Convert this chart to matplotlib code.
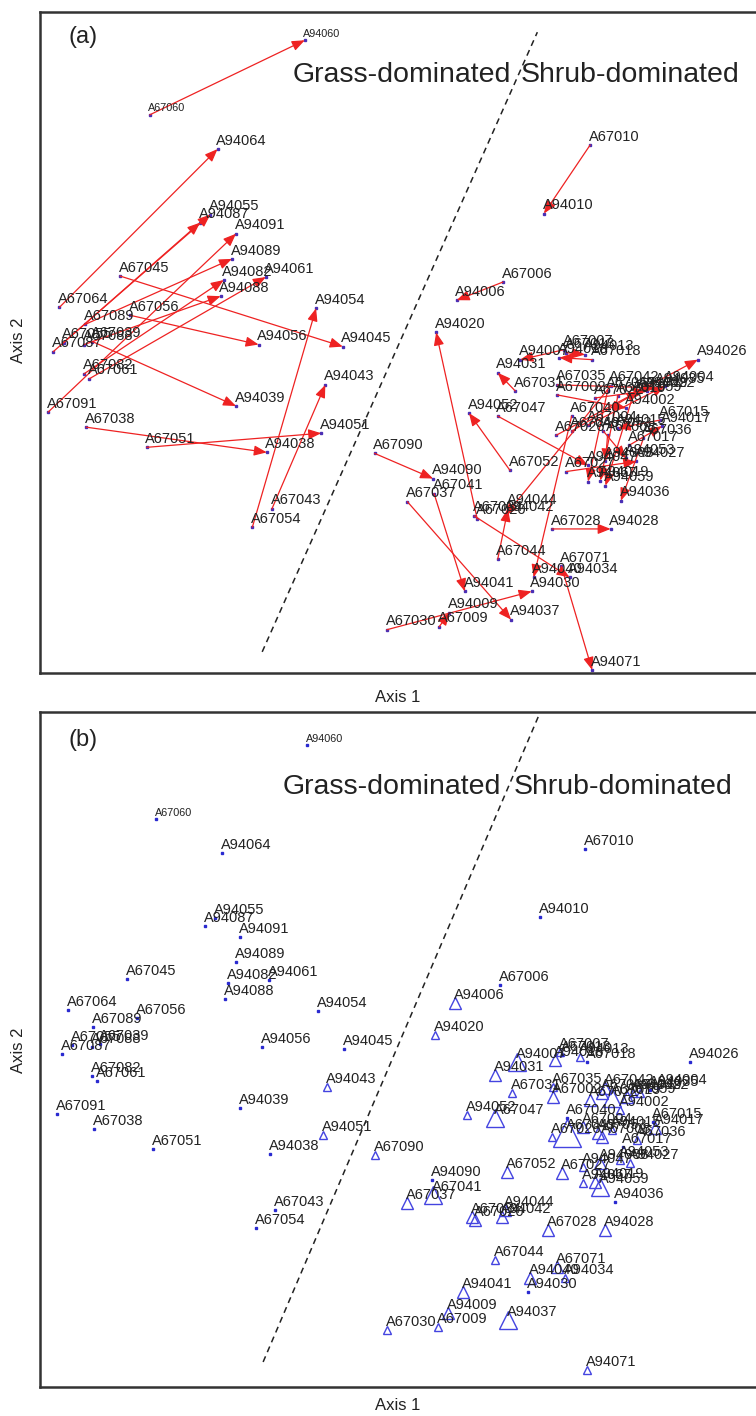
import matplotlib
matplotlib.use("Agg")
import matplotlib.pyplot as plt

plt.rcParams["font.family"] = ["Liberation Sans", "DejaVu Sans"]

# site numbers shared by the 1967 (A67) and 1994 (A94) surveys
site_ids = [
    "060", "064", "045", "089", "056", "087", "055", "088", "039", "091",
    "061", "082", "038", "051", "054", "043",
    "090", "041", "037", "030", "009", "028", "044", "071", "034", "020",
    "042", "006", "010", "026", "052", "047", "031", "007", "013", "018",
    "035", "002", "022", "004", "049", "040", "015", "017", "036", "053",
    "008", "027", "019", "059", "067",
]

# ordination scores, 1967
x67 = [-2.44, -3.32, -2.73, -3.07, -2.63, -3.38, -3.28, -3.08, -3.00, -3.43,
       -3.03, -3.08, -3.06, -2.47, -1.44, -1.25,
       -0.25, 0.33, 0.07, -0.13, 0.38, 1.48, 0.95, 1.57, 0.72, 0.75,
       2.05, 1.00, 1.85, 1.52, 1.07, 0.95, 1.12, 1.60, 1.62, 1.87,
       1.53, 1.53, 1.90, 1.83, 1.67, 1.67, 2.53, 2.23, 2.37, 1.98,
       2.02, 1.62, 2.12, 2.27, 2.02]
y67 = [2.31, 0.40, 0.71, 0.23, 0.32, -0.04, 0.05, 0.03, 0.06, -0.64,
       -0.31, -0.26, -0.79, -0.99, -1.78, -1.60,
       -1.05, -1.45, -1.53, -2.80, -2.77, -1.80, -2.10, -2.17, -1.67, -1.70,
       -0.38, 0.65, 2.01, -0.87, -1.22, -0.68, -0.43, -0.02, -0.05, -0.12,
       -0.37, -0.47, -0.50, -0.77, -0.83, -0.68, -0.72, -0.97, -0.90, -0.83,
       -0.87, -1.23, -0.48, -0.47, -0.43]

# ordination scores, 1994
x94 = [-0.93, -1.78, -0.56, -1.64, -1.38, -1.95, -1.85, -1.75, -1.60, -1.60,
       -1.31, -1.72, -1.30, -0.77, -0.82, -0.73,
       0.32, 0.63, 1.08, 1.28, 0.48, 2.05, 1.05, 1.87, 1.65, 0.35,
       1.02, 0.55, 1.40, 2.90, 0.67, 1.83, 0.95, 1.17, 1.80, 1.55,
       2.50, 2.20, 2.40, 2.58, 2.33, 1.30, 2.12, 2.55, 2.15, 2.20,
       2.00, 2.30, 1.95, 2.00, 1.83]
y94 = [3.05, 1.97, 0.01, 0.88, 0.03, 1.24, 1.32, 0.51, -0.58, 1.13,
       0.70, 0.67, -1.04, -0.85, 0.39, -0.37,
       -1.30, -2.42, -2.70, -2.42, -2.63, -1.80, -1.60, -3.20, -2.28, 0.15,
       -1.67, 0.47, 1.33, -0.12, -0.65, -1.17, -0.25, -0.12, -0.07, -0.10,
       -0.40, -0.60, -0.43, -0.38, -0.43, -2.28, -0.80, -0.78, -1.52, -1.10,
       -1.13, -1.13, -1.32, -1.37, -1.33]

# shrub cover class used for the triangle size in panel (b), 0 = none
shrub67 = [0, 0, 0, 0, 0, 0, 0, 0, 0, 0, 0, 0, 0, 0, 0, 0,
           1, 3, 2, 1, 1, 2, 1, 2, 2, 2,
           2, 0, 0, 1, 2, 3, 1, 1, 0, 0,
           1, 2, 2, 2, 4, 0, 0, 0, 1, 2,
           2, 2, 3, 2, 2]
shrub94 = [0, 0, 0, 0, 0, 0, 0, 0, 0, 0, 0, 0, 0, 1, 0, 1,
           0, 2, 3, 0, 2, 2, 2, 1, 1, 1,
           2, 2, 0, 0, 1, 1, 2, 3, 1, 2,
           0, 1, 1, 0, 1, 2, 1, 2, 0, 1,
           2, 1, 2, 3, 1]

small_label_sites = ["060"]

# grass / shrub boundary drawn on each panel
boundary_a_x = [-1.345, 1.336]
boundary_a_y = [-3.02, 3.13]
boundary_b_x = [-1.37, 1.40]
boundary_b_y = [-3.12, 3.38]

tri_size = {1: 6, 2: 9, 3: 13, 4: 20}
RED = "#ee2222"
DOT_A = "#4a2fb5"
BLUE = "#4444e0"
TXT = "#222222"


def label(ax, x, y, text, site):
    fs = 7.8 if site in small_label_sites else 10.5
    ax.annotate(text, (x, y), xytext=(-1, 1), textcoords="offset points",
                ha="left", va="bottom", fontsize=fs, color=TXT)


def style_axes(ax, xlim, ylim):
    ax.set_xlim(*xlim)
    ax.set_ylim(*ylim)
    ax.set_xticks([])
    ax.set_yticks([])
    for sp in ax.spines.values():
        sp.set_linewidth(1.8)
        sp.set_color("#333333")


fig = plt.figure(figsize=(7.56, 14.16), dpi=100)
ax_a = fig.add_axes([0.0529, 0.5247, 0.9503, 0.4668])
ax_b = fig.add_axes([0.0529, 0.0205, 0.9503, 0.4767])

# panel (a): movement of each site between surveys
style_axes(ax_a, (-3.51, 3.49), (-3.23, 3.33))
ax_a.plot(boundary_a_x, boundary_a_y, ls=(0, (4, 3)), color="#222222", lw=1.1)
for i, s in enumerate(site_ids):
    ax_a.annotate("", xy=(x94[i], y94[i]), xytext=(x67[i], y67[i]),
                  arrowprops=dict(arrowstyle="-|>,head_length=0.55,head_width=0.22",
                                  color=RED, lw=0.9, shrinkA=0, shrinkB=0,
                                  mutation_scale=14))
ax_a.plot(x67, y67, "s", ms=2, color=DOT_A, ls="none")
ax_a.plot(x94, y94, "s", ms=2, color=DOT_A, ls="none")
for i, s in enumerate(site_ids):
    label(ax_a, x67[i], y67[i], "A67" + s, s)
    label(ax_a, x94[i], y94[i], "A94" + s, s)

ax_a.text(0.039, 0.962, "(a)", transform=ax_a.transAxes, fontsize=17,
          va="center", ha="left", color=TXT)
ax_a.text(0.351, 0.905, "Grass-dominated", transform=ax_a.transAxes,
          fontsize=20.5, va="center", ha="left", color=TXT)
ax_a.text(0.669, 0.905, "Shrub-dominated", transform=ax_a.transAxes,
          fontsize=20.5, va="center", ha="left", color=TXT)

# panel (b): shrub cover at each site
style_axes(ax_b, (-3.60, 3.58), (-3.37, 3.38))
ax_b.plot(boundary_b_x, boundary_b_y, ls=(0, (4, 3)), color="#222222", lw=1.1)
for xs, ys, cover, yr in [(x67, y67, shrub67, "A67"), (x94, y94, shrub94, "A94")]:
    for i, s in enumerate(site_ids):
        if cover[i] == 0:
            ax_b.plot(xs[i], ys[i], "s", ms=2, color="#2a2ad0")
        else:
            ax_b.plot(xs[i], ys[i], "^", ms=tri_size[cover[i]], mfc="none",
                      mec=BLUE, mew=1.0)
        label(ax_b, xs[i], ys[i], yr + s, s)

ax_b.text(0.039, 0.958, "(b)", transform=ax_b.transAxes, fontsize=17,
          va="center", ha="left", color=TXT)
ax_b.text(0.338, 0.889, "Grass-dominated", transform=ax_b.transAxes,
          fontsize=20.5, va="center", ha="left", color=TXT)
ax_b.text(0.660, 0.889, "Shrub-dominated", transform=ax_b.transAxes,
          fontsize=20.5, va="center", ha="left", color=TXT)

fig.text(0.526, 1 - 697 / 1416, "Axis 1", ha="center", va="center", fontsize=12, color=TXT)
fig.text(0.526, 1 - 1405 / 1416, "Axis 1", ha="center", va="center", fontsize=12, color=TXT)
fig.text(0.024, 1 - 340 / 1416, "Axis 2", ha="center", va="center", rotation=90,
         fontsize=12, color=TXT)
fig.text(0.024, 1 - 1050 / 1416, "Axis 2", ha="center", va="center", rotation=90,
         fontsize=12, color=TXT)

fig.savefig("out.png", dpi=100)
